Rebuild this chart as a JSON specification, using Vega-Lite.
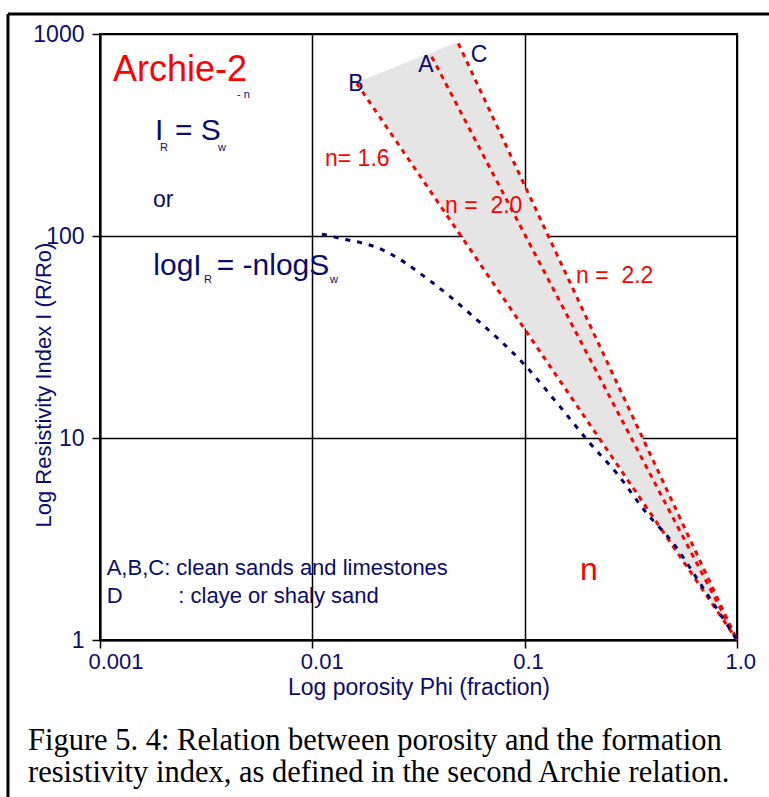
{
  "$schema": "https://vega.github.io/schema/vega-lite/v6.json",
  "width": 637,
  "height": 606,
  "autosize": {"type": "none"},
  "padding": {"left": 100, "top": 34, "right": 32, "bottom": 157},
  "background": "white",
  "config": {
    "view": {"stroke": "#000", "strokeWidth": 2},
    "font": "Liberation Sans"
  },
  "title": {
    "text": [
      "Figure 5. 4: Relation between porosity and the formation",
      "resistivity index, as defined in the second Archie relation."
    ],
    "orient": "bottom",
    "anchor": "start",
    "frame": "group",
    "baseline": "top",
    "font": "Liberation Serif",
    "fontSize": 30.5,
    "fontWeight": "normal",
    "color": "#000",
    "lineHeight": 32,
    "offset": -73,
    "dx": -72
  },
  "datasets": {
    "frame": [
      {"phi": 0.0003687, "ri": 1256, "phi2": 1.415, "ri2": 1256},
      {"phi": 0.0003687, "ri": 1256, "phi2": 0.0003687, "ri2": 0.167}
    ],
    "band": [
      {"ord": 1, "phi": 0.01641, "ri": 579},
      {"ord": 2, "phi": 0.0479, "ri": 906},
      {"ord": 3, "phi": 1, "ri": 1}
    ],
    "archie": [
      {"curve": "B", "phi": 0.01618, "ri": 570},
      {"curve": "B", "phi": 1, "ri": 1},
      {"curve": "A", "phi": 0.0365, "ri": 772},
      {"curve": "A", "phi": 1, "ri": 1},
      {"curve": "C", "phi": 0.0487, "ri": 899},
      {"curve": "C", "phi": 1, "ri": 1}
    ],
    "shaly": [
      {"phi": 0.0111, "ri": 102.3},
      {"phi": 0.01251, "ri": 99.2},
      {"phi": 0.02152, "ri": 85.2},
      {"phi": 0.037, "ri": 58.5},
      {"phi": 0.0594, "ri": 38.6},
      {"phi": 0.0985, "ri": 23.4},
      {"phi": 0.1467, "ri": 14.3},
      {"phi": 0.203, "ri": 9.42},
      {"phi": 0.2714, "ri": 6.69},
      {"phi": 0.3757, "ri": 4.24},
      {"phi": 0.5013, "ri": 3.01},
      {"phi": 0.6695, "ri": 1.91},
      {"phi": 1, "ri": 1}
    ],
    "notes": [
      {"kind": "heading", "phi": 0.001151, "ri": 585, "text": "Archie-2"},
      {"kind": "formula", "phi": 0.001816, "ri": 298.7, "text": "I"},
      {"kind": "formula", "phi": 0.002255, "ri": 298.7, "text": "= S"},
      {"kind": "formula", "phi": 0.001783, "ri": 64.1, "text": "logI"},
      {"kind": "formula", "phi": 0.003545, "ri": 64.1, "text": "= -nlogS"},
      {"kind": "index", "phi": 0.004417, "ri": 482, "text": "- n"},
      {"kind": "index", "phi": 0.001918, "ri": 264.4, "text": "R"},
      {"kind": "index", "phi": 0.003594, "ri": 264.4, "text": "w"},
      {"kind": "index", "phi": 0.003089, "ri": 58.3, "text": "R"},
      {"kind": "index", "phi": 0.01211, "ri": 58.3, "text": "w"},
      {"kind": "word", "phi": 0.001777, "ri": 139.2, "text": "or"},
      {"kind": "exponent", "phi": 0.01147, "ri": 222, "text": "n= 1.6"},
      {"kind": "exponent", "phi": 0.04215, "ri": 130.4, "text": "n =\u00a0\u00a02.0"},
      {"kind": "exponent", "phi": 0.1745, "ri": 58.3, "text": "n =\u00a0\u00a02.2"},
      {"kind": "symbol", "phi": 0.1822, "ri": 1.98, "text": "n"},
      {"kind": "curve", "phi": 0.01477, "ri": 524, "text": "B"},
      {"kind": "curve", "phi": 0.03156, "ri": 650.8, "text": "A"},
      {"kind": "curve", "phi": 0.05569, "ri": 724, "text": "C"},
      {"kind": "legend", "phi": 0.001075, "ri": 2.098, "text": "A,B,C: clean sands and limestones"},
      {"kind": "legend", "phi": 0.001075, "ri": 1.519, "text": "D"},
      {"kind": "legend", "phi": 0.002337, "ri": 1.519, "text": ": claye or shaly sand"}
    ]
  },
  "encoding": {
    "x": {
      "field": "phi",
      "type": "quantitative",
      "scale": {"type": "log", "domain": [0.001, 1], "nice": false},
      "axis": {
        "values": [0.001, 0.01, 0.1, 1],
        "labelExpr": "datum.value > 0.5 ? '1.0' : format(datum.value, '~g')",
        "title": "Log porosity Phi (fraction)",
        "grid": true,
        "gridColor": "#000",
        "gridWidth": 1.5,
        "gridOpacity": 1,
        "domainColor": "#000",
        "domainWidth": 2,
        "tickColor": "#000",
        "tickWidth": 1.5,
        "tickSize": 8,
        "labelFont": "Liberation Sans",
        "labelFontSize": 22,
        "labelColor": "#0b0b70",
        "labelAlign": "left",
        "labelOffset": -12,
        "labelFlush": false,
        "labelOverlap": false,
        "labelPadding": 3,
        "titleFont": "Liberation Sans",
        "titleFontSize": 23,
        "titleFontWeight": "normal",
        "titleColor": "#0b0b70",
        "titlePadding": 4
      }
    },
    "y": {
      "field": "ri",
      "type": "quantitative",
      "scale": {"type": "log", "domain": [1, 1000], "nice": false},
      "axis": {
        "values": [1, 10, 100, 1000],
        "format": "d",
        "title": "Log Resistivity Index I (R/Ro)",
        "grid": true,
        "gridColor": "#000",
        "gridWidth": 1.5,
        "gridOpacity": 1,
        "domainColor": "#000",
        "domainWidth": 2,
        "tickColor": "#000",
        "tickWidth": 1.5,
        "tickSize": 8,
        "labelFont": "Liberation Sans",
        "labelFontSize": 23,
        "labelColor": "#0b0b70",
        "labelPadding": 8,
        "labelFlush": false,
        "labelOverlap": false,
        "titleFont": "Liberation Sans",
        "titleFontSize": 22,
        "titleFontWeight": "normal",
        "titleColor": "#0b0b70",
        "titleAngle": -90,
        "titleAlign": "left",
        "titleBaseline": "bottom",
        "titleX": -45,
        "titleY": 493
      }
    }
  },
  "layer": [
    {
      "data": {"name": "band"},
      "mark": {"type": "line", "fill": "#e5e5e5", "stroke": "#e5e5e5", "strokeWidth": 0.5, "clip": true},
      "encoding": {"order": {"field": "ord", "type": "quantitative"}}
    },
    {
      "data": {"name": "archie"},
      "mark": {"type": "line", "color": "#ff0000", "strokeWidth": 3, "strokeDash": [5, 5]},
      "encoding": {"detail": {"field": "curve", "type": "nominal"}}
    },
    {
      "data": {"name": "shaly"},
      "mark": {"type": "line", "color": "#000066", "strokeWidth": 3, "strokeDash": [5, 7], "interpolate": "monotone"},
      "encoding": {}
    },
    {
      "data": {"name": "frame"},
      "mark": {"type": "rule", "color": "#000", "strokeWidth": 3, "clip": false},
      "encoding": {
        "x2": {"field": "phi2"},
        "y2": {"field": "ri2"}
      }
    },
    {
      "data": {"name": "notes"},
      "transform": [{"filter": "datum.kind === 'heading'"}],
      "mark": {"type": "text", "align": "left", "baseline": "alphabetic", "font": "Liberation Sans", "fontSize": 36, "color": "#ff0000"},
      "encoding": {"text": {"field": "text"}}
    },
    {
      "data": {"name": "notes"},
      "transform": [{"filter": "datum.kind === 'formula'"}],
      "mark": {"type": "text", "align": "left", "baseline": "alphabetic", "font": "Liberation Sans", "fontSize": 30, "color": "#0b0b70"},
      "encoding": {"text": {"field": "text"}}
    },
    {
      "data": {"name": "notes"},
      "transform": [{"filter": "datum.kind === 'index'"}],
      "mark": {"type": "text", "align": "left", "baseline": "alphabetic", "font": "Liberation Sans", "fontSize": 11, "color": "#0b0b70"},
      "encoding": {"text": {"field": "text"}}
    },
    {
      "data": {"name": "notes"},
      "transform": [{"filter": "datum.kind === 'word' || datum.kind === 'curve'"}],
      "mark": {"type": "text", "align": "left", "baseline": "alphabetic", "font": "Liberation Sans", "fontSize": 23, "color": "#0b0b70"},
      "encoding": {"text": {"field": "text"}}
    },
    {
      "data": {"name": "notes"},
      "transform": [{"filter": "datum.kind === 'legend'"}],
      "mark": {"type": "text", "align": "left", "baseline": "alphabetic", "font": "Liberation Sans", "fontSize": 22, "color": "#0b0b70"},
      "encoding": {"text": {"field": "text"}}
    },
    {
      "data": {"name": "notes"},
      "transform": [{"filter": "datum.kind === 'exponent'"}],
      "mark": {"type": "text", "align": "left", "baseline": "alphabetic", "font": "Liberation Sans", "fontSize": 23, "color": "#ff0000"},
      "encoding": {"text": {"field": "text"}}
    },
    {
      "data": {"name": "notes"},
      "transform": [{"filter": "datum.kind === 'symbol'"}],
      "mark": {"type": "text", "align": "left", "baseline": "alphabetic", "font": "Liberation Sans", "fontSize": 32, "color": "#ff0000"},
      "encoding": {"text": {"field": "text"}}
    }
  ]
}
